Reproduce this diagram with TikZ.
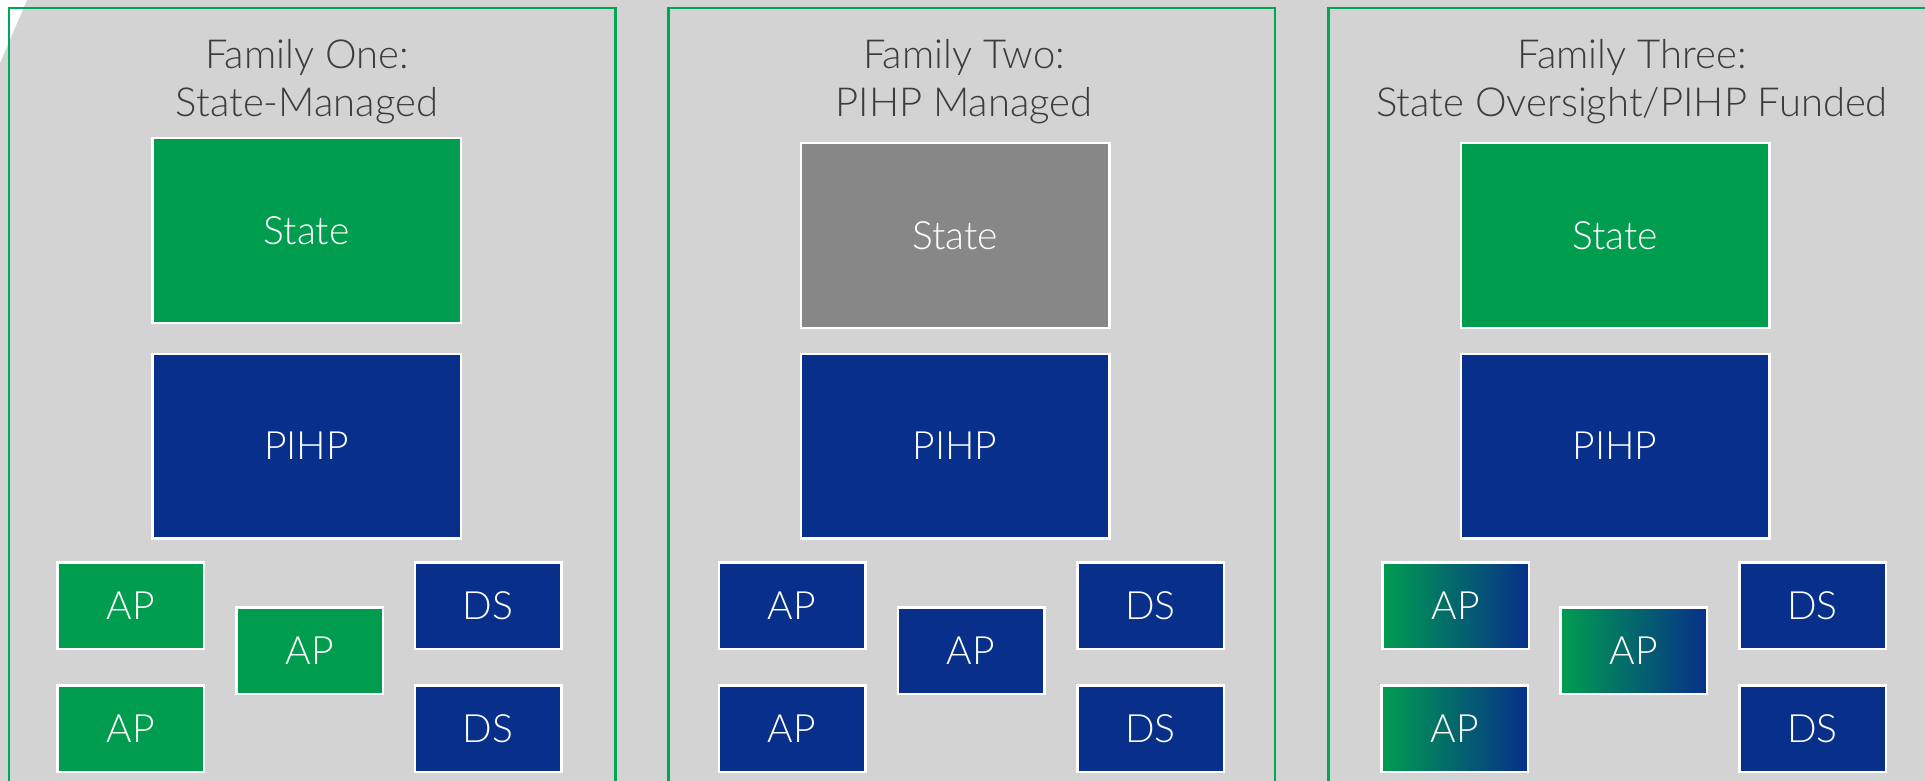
\documentclass[tikz,border=0pt]{standalone}
\usepackage{fontspec}
\setmainfont{Lato}[UprightFont = * Light]

\definecolor{backgray}{HTML}{D3D3D3}
\definecolor{framegreen}{HTML}{00A651}
\definecolor{stategreen}{HTML}{009D4F}
\definecolor{pihpblue}{HTML}{08308A}
\definecolor{stategray}{HTML}{878787}
\definecolor{titlegray}{HTML}{3C3C3C}

\begin{document}
\begin{tikzpicture}[x = 1pt, y = -1pt,
	familyframe/.style = {draw = framegreen, line width = 2.5pt},
	heading/.style = {align = center, text = titlegray, inner sep = 0pt, font = \fontsize{40}{48}\selectfont},
	orgbox/.style = {draw = white, line width = 2.5pt, text = white, inner sep = 0pt, font = \fontsize{39}{48}\selectfont},
	bigbox/.style = {orgbox, minimum width = 308.5pt, minimum height = 184.5pt},
	smallbox/.style = {orgbox, minimum width = 146.5pt, minimum height = 86.5pt},
	stfill/.style = {fill = stategreen},
	pihpfill/.style = {fill = pihpblue},
	grayfill/.style = {fill = stategray},
	mixfill/.style = {left color = stategreen, right color = pihpblue}]

	% Page

	\useasboundingbox (0, 0) rectangle (1925, 781);
	\clip (0, 0) rectangle (1925, 781);
	\fill [backgray] (0, 0) rectangle (1925, 781);
	\fill [white] (0, 0) -- (27, 0) -- (0, 63) -- cycle;

	% Family frames

	\foreach \x in {9, 668.5, 1328.5}
		\draw [familyframe] (\x, 8) rectangle (\x + 606.5, 830);

	% Family one

	\node [heading] (title1) at (307, 81.5) {Family One:\\State-Managed};
	\node [bigbox, stfill] (state1) at (306.5, 230.5) {State};
	\node [bigbox, pihpfill] (pihp1) at (306.5, 446) {PIHP};
	\node [smallbox, stfill] (ap1a) at (130.5, 605.5) {AP};
	\node [smallbox, stfill] (ap1b) at (309.5, 650.5) {AP};
	\node [smallbox, stfill] (ap1c) at (130.5, 728.5) {AP};
	\node [smallbox, pihpfill] (ds1a) at (488, 605.5) {DS};
	\node [smallbox, pihpfill] (ds1b) at (488, 728.5) {DS};

	% Family two

	\node [heading] (title2) at (964, 81.5) {Family Two:\\PIHP Managed};
	\node [bigbox, grayfill] (state2) at (955, 235.5) {State};
	\node [bigbox, pihpfill] (pihp2) at (955, 446) {PIHP};
	\node [smallbox, pihpfill] (ap2a) at (792, 605.5) {AP};
	\node [smallbox, pihpfill] (ap2b) at (971, 650.5) {AP};
	\node [smallbox, pihpfill] (ap2c) at (792, 728.5) {AP};
	\node [smallbox, pihpfill] (ds2a) at (1150.5, 605.5) {DS};
	\node [smallbox, pihpfill] (ds2b) at (1150.5, 728.5) {DS};

	% Family three

	\node [heading] (title3) at (1632, 81.5) {Family Three:\\State Oversight/PIHP Funded};
	\node [bigbox, stfill] (state3) at (1615, 235.5) {State};
	\node [bigbox, pihpfill] (pihp3) at (1615, 446) {PIHP};
	\node [smallbox, mixfill] (ap3a) at (1455.5, 605.5) {AP};
	\node [smallbox, mixfill] (ap3b) at (1633.5, 650.5) {AP};
	\node [smallbox, mixfill] (ap3c) at (1454.5, 728.5) {AP};
	\node [smallbox, pihpfill] (ds3a) at (1812.5, 605.5) {DS};
	\node [smallbox, pihpfill] (ds3b) at (1812.5, 728.5) {DS};

\end{tikzpicture}
\end{document}
